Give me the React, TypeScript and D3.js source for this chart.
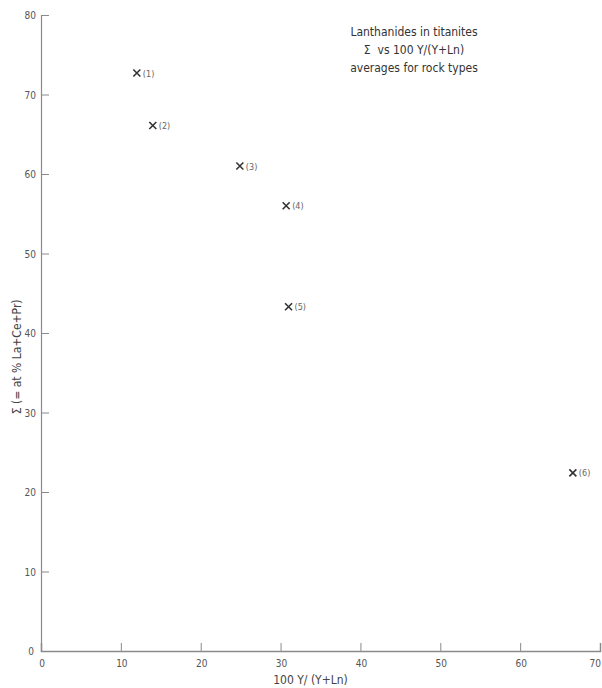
import React, { useEffect, useRef } from 'react';
import * as d3 from 'd3';

const labels = ['(1)', '(2)', '(3)', '(4)', '(5)', '(6)'];
const xValues = [12.0, 14.0, 24.9, 30.7, 31.0, 66.6];
const yValues = [72.7, 66.1, 61.0, 56.0, 43.3, 22.4];
const xTicks = [0, 10, 20, 30, 40, 50, 60, 70];
const yTicks = [0, 10, 20, 30, 40, 50, 60, 70, 80];
const titleLines = ['Lanthanides in titanites', 'Σ  vs 100 Y/(Y+Ln)', 'averages for rock types'];

const FONT = '"Liberation Sans Narrow", "DejaVu Sans Condensed", "Roboto", sans-serif';

export default function App() {
  const ref = useRef<SVGSVGElement | null>(null);

  useEffect(() => {
    const width = 602, height = 688;
    const margin = { top: 15, right: 2, bottom: 37, left: 41 };
    const svg = d3.select(ref.current);
    svg.selectAll('*').remove();

    const x = d3.scaleLinear().domain([0, 70]).range([margin.left, width - margin.right]);
    const y = d3.scaleLinear().domain([0, 80]).range([height - margin.bottom, margin.top]);

    const axisColor = '#8a8a8a';
    const textColor = '#555';

    // y axis
    const gy = svg.append('g').attr('transform', `translate(${margin.left},0)`)
      .call(d3.axisRight(y).tickValues(yTicks).tickSize(8).tickFormat(() => ''));
    gy.select('.domain').attr('stroke', axisColor).attr('stroke-width', 1.2);
    gy.selectAll('.tick line').attr('stroke', axisColor).attr('stroke-width', 1);
    svg.append('g').selectAll('text').data(yTicks).enter().append('text')
      .attr('x', d => (d === 0 ? margin.left - 7 : margin.left - 5))
      .attr('y', d => y(d) + 4)
      .attr('text-anchor', 'end')
      .style('font-family', FONT).style('font-size', '10px').attr('fill', textColor)
      .text(d => d);

    // x axis
    const gx = svg.append('g').attr('transform', `translate(0,${y(0)})`)
      .call(d3.axisTop(x).tickValues(xTicks).tickSize(8).tickFormat(() => ''));
    gx.select('.domain').attr('stroke', axisColor).attr('stroke-width', 1.5);
    gx.selectAll('.tick line').attr('stroke', axisColor).attr('stroke-width', 1);
    svg.append('g').selectAll('text').data(xTicks).enter().append('text')
      .attr('x', d => (d === 70 ? width - 1 : x(d) + 1))
      .attr('y', y(0) + 16)
      .attr('text-anchor', d => (d === 70 ? 'end' : 'middle'))
      .style('font-family', FONT).style('font-size', '10px').attr('fill', textColor)
      .text(d => d);

    // axis titles
    svg.append('text')
      .attr('x', x(35) - 10).attr('y', y(0) + 33)
      .attr('text-anchor', 'middle')
      .style('font-family', FONT).style('font-size', '12px').attr('fill', '#444')
      .text('100 Y/ (Y+Ln)');

    svg.append('text')
      .attr('transform', `translate(21,${y(37)}) rotate(-90)`)
      .attr('text-anchor', 'middle')
      .style('font-family', FONT).style('font-size', '12px').attr('fill', '#444')
      .text('Σ (= at % La+Ce+Pr)');

    // title
    svg.append('g').selectAll('text').data(titleLines).enter().append('text')
      .attr('x', 414)
      .attr('y', (d, i) => 36 + i * 18)
      .attr('text-anchor', 'middle')
      .attr('xml:space', 'preserve')
      .style('white-space', 'pre')
      .style('font-family', FONT).style('font-size', '12px').attr('fill', '#333')
      .text(d => d);

    // points
    const pts = labels.map((l, i) => ({ label: l, x: xValues[i], y: yValues[i] }));
    const s = 3.5;
    const g = svg.append('g').selectAll('g').data(pts).enter().append('g')
      .attr('transform', d => `translate(${x(d.x)},${y(d.y)})`);
    g.append('path')
      .attr('d', `M${-s},${-s}L${s},${s}M${-s},${s}L${s},${-s}`)
      .attr('stroke', '#333').attr('stroke-width', 1.6);
    g.append('text')
      .attr('x', 6).attr('y', 3.5)
      .style('font-family', FONT).style('font-size', '9px').attr('fill', '#666')
      .text(d => d.label);
  }, []);

  return (
    <svg ref={ref} width={602} height={688}
      style={{ position: 'absolute', left: 0, top: 0, background: '#fff' }} />
  );
}
